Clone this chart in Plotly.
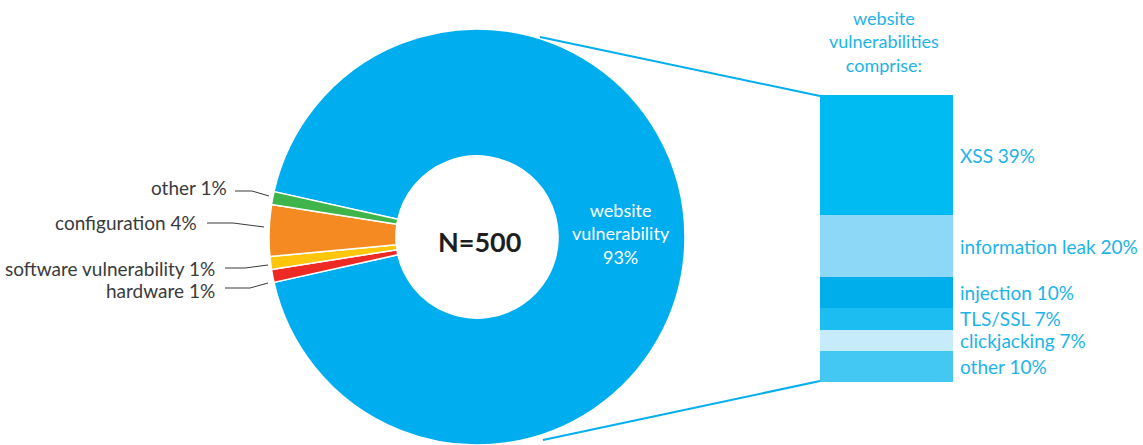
import plotly.graph_objects as go

W, H = 1143, 445

# Breakdown of all findings (pie)
pie_labels = ["website vulnerability", "hardware", "software vulnerability", "configuration", "other"]
pie_values = [93, 1, 1, 4, 1]
pie_colors = ["#00AEEF", "#ED2A24", "#FFC60B", "#F58A22", "#3FB44A"]

# Website vulnerabilities split (stacked bar, share of all findings)
web_labels = ["XSS", "information leak", "injection", "TLS/SSL", "clickjacking", "other"]
web_values = [39, 20, 10, 7, 7, 10]
web_colors = ["#00BBF1", "#8ED8F7", "#00AEEB", "#1CBDF1", "#C6EBFA", "#43C7F3"]

sample_size = 500

FONT = "Lato"
DARK = "#3A3A3A"
BLUE_TXT = "#1DB3E9"


def px(x):
    return x / W


def py(y):
    return 1 - y / H


fig = go.Figure()

# donut: small slices centred on 9 o'clock
total = sum(pie_values)
small = total - pie_values[0]
rotation = 270 - (small / total) * 180 - (pie_values[0] / total) * 360

fig.add_trace(go.Pie(
    labels=pie_labels,
    values=pie_values,
    marker=dict(colors=pie_colors, line=dict(color="white", width=1.5)),
    hole=0.39,
    sort=False,
    direction="clockwise",
    rotation=rotation,
    textinfo="none",
    hoverinfo="label+percent",
    showlegend=False,
    domain=dict(x=[px(477 - 208), px(477 + 208)], y=[0, py(445 - 416)]),
))

# stacked bar
for lab, val, col in zip(web_labels, web_values, web_colors):
    fig.add_trace(go.Bar(
        x=[0], y=[val], name=lab, width=1,
        marker=dict(color=col, line=dict(width=0)),
        xaxis="x2", yaxis="y2", showlegend=False,
        hovertemplate=f"{lab} {val}%<extra></extra>",
    ))

annotations = []

# bar segment labels
cum = 0
for lab, val in zip(web_labels, web_values):
    mid = cum + val / 2
    cum += val
    annotations.append(dict(
        x=px(958), xref="paper", y=mid, yref="y2",
        text=f"{lab} {val}%", showarrow=False,
        xanchor="left", yanchor="middle",
        font=dict(family=FONT, size=19, color=BLUE_TXT),
    ))

annotations.append(dict(
    x=px(884), y=py(42), xref="paper", yref="paper",
    text="website<br>vulnerabilities<br>comprise:", showarrow=False,
    xanchor="center", yanchor="middle",
    font=dict(family=FONT, size=18, color=BLUE_TXT),
))

annotations.append(dict(
    x=px(479), y=py(241), xref="paper", yref="paper",
    text=f"<b>N={sample_size}</b>", showarrow=False,
    xanchor="center", yanchor="middle",
    font=dict(family=FONT, size=27, color="#1E1E1E"),
))

annotations.append(dict(
    x=px(621), y=py(233), xref="paper", yref="paper",
    text=f"website<br>vulnerability<br>{pie_values[0]}%", showarrow=False,
    xanchor="center", yanchor="middle",
    font=dict(family=FONT, size=18, color="white"),
))

# left-hand labels with leader lines
left_specs = [
    # label index, text right edge / centre y, leader path
    (4, 229, 188, [(235, 191), (252, 191), (269, 196)]),
    (3, 199, 222, [(207, 223), (233, 223), (264, 227)]),
    (2, 217, 268, [(225, 268), (245, 268), (268, 265)]),
    (1, 217, 290, [(225, 288), (250, 288), (268, 283)]),
]

shapes = []
for idx, xr, yc, path in left_specs:
    annotations.append(dict(
        x=px(xr), y=py(yc), xref="paper", yref="paper",
        text=f"{pie_labels[idx]} {pie_values[idx]}%", showarrow=False,
        xanchor="right", yanchor="middle",
        font=dict(family=FONT, size=19, color=DARK),
    ))
    d = "M " + " L ".join(f"{px(x)},{py(y)}" for x, y in path)
    shapes.append(dict(type="path", path=d, xref="paper", yref="paper",
                       line=dict(color=DARK, width=1)))

# connectors from donut to bar
for (x0, y0), (x1, y1) in [((540, 37), (820, 96)), ((543, 440), (820, 381))]:
    shapes.append(dict(type="line", xref="paper", yref="paper",
                       x0=px(x0), y0=py(y0), x1=px(x1), y1=py(y1),
                       line=dict(color="#00AEEF", width=2)))

fig.update_layout(
    width=W, height=H,
    margin=dict(l=0, r=0, t=0, b=0),
    paper_bgcolor="white", plot_bgcolor="white",
    barmode="stack", bargap=0,
    xaxis=dict(visible=False),
    yaxis=dict(visible=False),
    xaxis2=dict(domain=[px(820), px(953)], range=[-0.5, 0.5], visible=False, anchor="y2"),
    yaxis2=dict(domain=[py(382), py(95)], range=[sum(web_values), 0], visible=False, anchor="x2"),
    annotations=annotations,
    shapes=shapes,
    font=dict(family=FONT),
)

fig.write_html("out.html")
